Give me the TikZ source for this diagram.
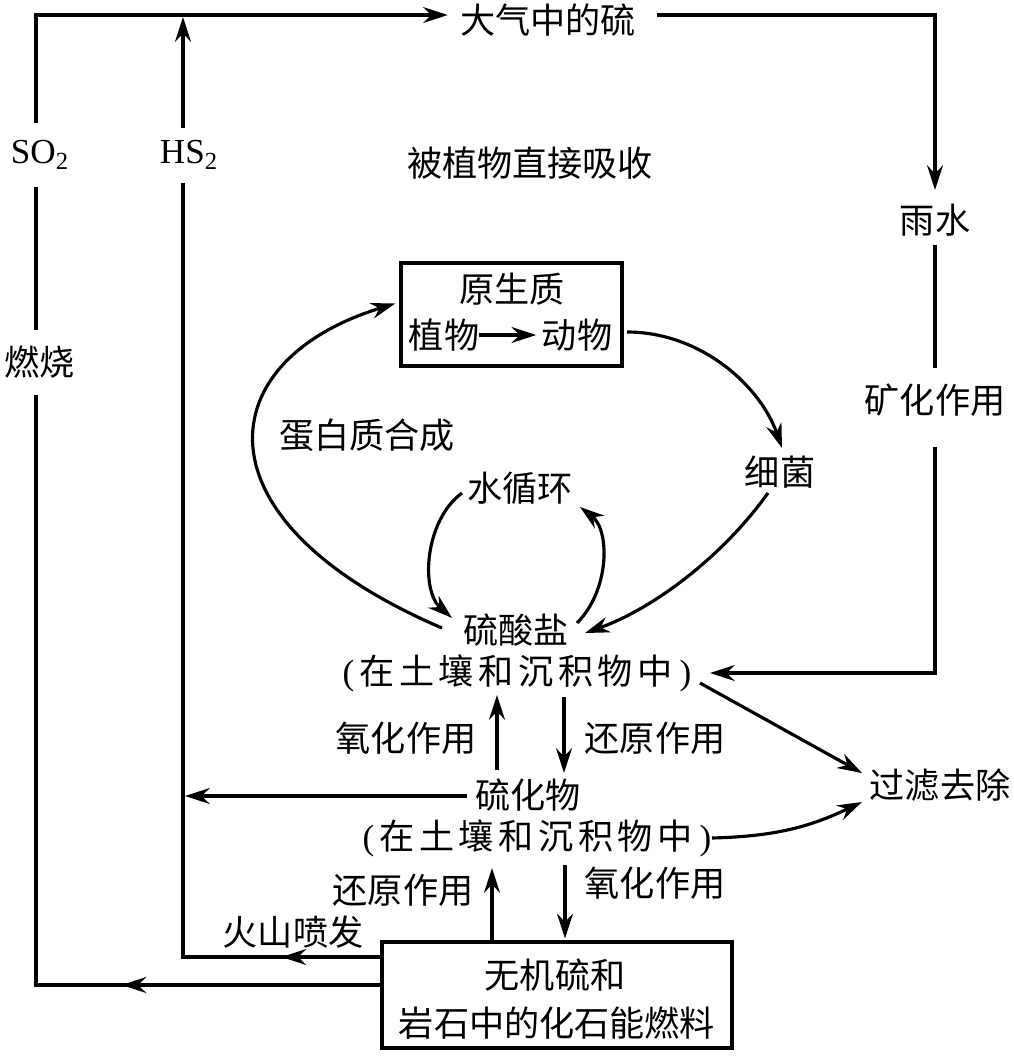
\documentclass[tikz,border=0pt]{standalone}
\usepackage{fontspec}
\setmainfont{Liberation Serif}
\newfontfamily\cjk{Noto Sans CJK SC}
\newfontfamily\cjkw{Noto Sans CJK SC}[LetterSpace=13]
\usetikzlibrary{arrows.meta,decorations.markings,calc}
\begin{document}
\begin{tikzpicture}[x=0.02cm,y=-0.02cm,
  every node/.style={font=\cjk\fontsize{20}{24}\selectfont, inner sep=0pt},
  conn/.style={line width=1.8pt},
  tip/.style={-{Stealth[length=14pt,width=9pt]}},
  midtip/.style={postaction={decorate,decoration={markings,mark=at position #1 with {\arrow{Stealth[length=14pt,width=9pt]}}}}},
  boxed/.style={draw, line width=1.8pt},
  gap/.style={fill=white, inner xsep=2pt}
]
\useasboundingbox (0,0) rectangle (1014,1059);

% ---------- nodes ----------
\node (atm) at (548,20) {大气中的硫};
\node (absorb) at (530,163) {被植物直接吸收};
\node[boxed, minimum width=4.42cm, minimum height=2.06cm] (proto) at (511.5,314.5) {};
\node (yuan) at (512,289) {原生质};
\node (zhiwu) at (444,335) {植物};
\node (dongwu) at (577,335) {动物};
\node (bact) at (780,472) {细菌};
\node (water) at (520,488) {水循环};
\node (protein) at (367,435) {蛋白质合成};
\node (sulfate) at (516,630) {硫酸盐};
\node (sulfateloc) at (517,673) {{\rmfamily (}\hspace{3pt}{\cjkw 在土壤和沉积物中}\hspace{4pt}{\rmfamily )}};
\node (ox1) at (406,738) {氧化作用};
\node (red1) at (655,738) {还原作用};
\node (sulfide) at (528,795) {硫化物};
\node (sulfideloc) at (537,838) {{\rmfamily (}\hspace{3pt}{\cjkw 在土壤和沉积物中}\hspace{4pt}{\rmfamily )}};
\node (red2) at (403,890) {还原作用};
\node (ox2) at (655,883) {氧化作用};
\node (volc) at (293,932) {火山喷发};
\node[boxed, minimum width=7cm, minimum height=2.12cm] (fossil) at (557,995) {};
\node (f1) at (555,975) {无机硫和};
\node (f2) at (557,1023) {岩石中的化石能燃料};
\node (filter) at (940,785) {过滤去除};
\node (rain) at (935,220) {雨水};
\node (mineral) at (935,400) {矿化作用};

\coordinate (bl) at (36,985);
\coordinate (tl) at (36,15);
\coordinate (hb) at (183,957);
\coordinate (ht) at (183,15);
\coordinate (tr) at (935,15);
\coordinate (br) at (935,673);

% ---------- outer loops ----------
\draw[conn, tip, midtip=5.18cm] (fossil.west |- bl) -- (bl) -- (tl) -- ($(atm.west |- tl)+(-12,0)$);
\draw[conn, tip, midtip=1.98cm] (fossil.west |- hb) -- (hb) -- ($(ht)+(0,2)$);
\draw[conn, tip] ($(sulfide.west)+(-8,1)$) -- ($(sulfide.west -| hb)+(2,1)$);

\draw[conn, tip] ($(atm.east |- tr)+(21,0)$) -- (tr) -- ($(rain)+(0,-30)$);
\draw[conn] ($(rain)+(0,25)$) -- ($(mineral)+(0,-32)$);
\draw[conn, tip] ($(mineral)+(0,47)$) -- (br) -- ($(sulfateloc |- br)+(193,0)$);

% ---------- inner cycle ----------
\draw[conn, tip] (zhiwu.east) -- ([xshift=-3pt]dongwu.west);
\draw[conn, tip] ($(sulfate)+(-74,-2)$) .. controls (190,520) and (210,360) .. ($(proto.west)+(-4,-11)$);
\draw[conn, tip] ($(dongwu)+(50,-3)$) .. controls (700,332) and (760,385) .. ($(bact)+(2,-24)$);
\draw[conn, tip] ($(bact)+(-12,21)$) .. controls (720,560) and (650,610) .. ($(sulfate)+(69,3)$);
\draw[conn, tip] ($(water)+(-58,5)$) .. controls (425,520) and (420,590) .. ($(sulfate)+(-64,-12)$);
\draw[conn, tip] ($(sulfate)+(61,-7)$) .. controls (610,590) and (610,530) .. ($(water)+(60,19)$);

% ---------- vertical transformations ----------
\draw[conn, tip] ($(sulfide)+(-31,-25)$) -- ($(sulfateloc)+(-20,22)$);
\draw[conn, tip] ($(sulfateloc)+(47,24)$) -- ($(sulfide)+(36,-22)$);
\draw[conn, tip] ($(fossil.north)+(-65,0)$) -- ($(sulfideloc)+(-45,30)$);
\draw[conn, tip] ($(sulfideloc)+(28,27)$) -- ($(fossil.north)+(8,-2)$);

% ---------- to filter ----------
\draw[conn, tip] ($(sulfateloc)+(183,10)$) -- ($(filter)+(-78,-12)$);
\draw[conn, tip] ($(sulfideloc)+(175,0)$) to[bend right=12] ($(filter)+(-78,17)$);

% ---------- labels breaking the lines ----------
\node[gap, minimum height=1.28cm] (so2) at (40,155) {\rmfamily SO\textsubscript{2}};
\node[gap, minimum height=1.3cm] (burn) at (40,362) {燃烧};
\node[gap, minimum height=1.1cm] (hs2) at (189,155) {\rmfamily HS\textsubscript{2}};
\end{tikzpicture}
\end{document}
